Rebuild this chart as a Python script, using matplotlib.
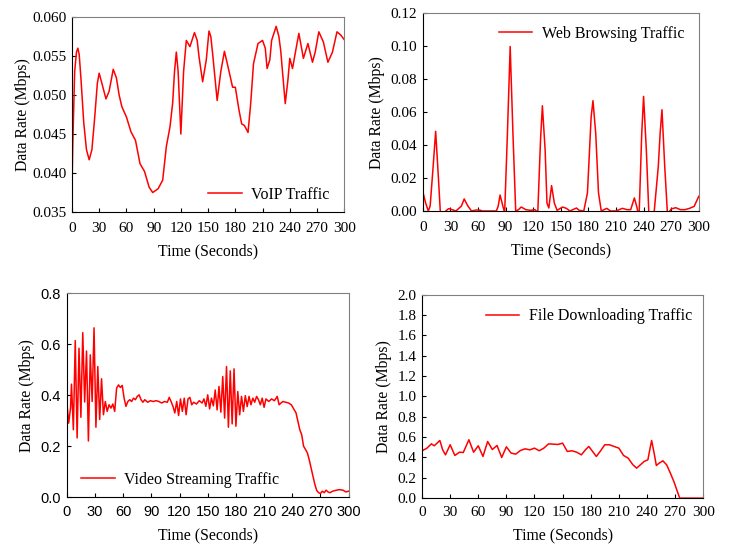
"""Four panels of traffic data rate over time."""

import matplotlib.pyplot as plt

plt.rcParams["font.family"] = ["Liberation Serif", "DejaVu Serif"]

# VoIP traffic
voip_t = [0, 1, 3, 5, 6.5, 8, 10, 13, 16, 19, 22, 25, 28, 30, 33, 37.5, 41, 45.5, 49, 52, 55,
          60, 65, 70, 75, 80, 85, 89, 95, 100, 104, 108, 111, 113, 115, 117, 120, 123, 126,
          130, 135, 138, 140, 144, 148, 151, 153, 155, 160, 164, 168, 172, 177, 180, 184,
          187, 190, 194, 197, 200, 205, 210, 213, 215, 218, 220, 225, 228, 230, 235, 238,
          240, 243, 247, 250, 253, 255, 260, 265, 268, 272, 277, 282, 287, 292, 296, 300]
voip_y = [0.0374, 0.0440, 0.0530, 0.0555, 0.0560, 0.0552, 0.0520, 0.0465, 0.0430, 0.0417,
          0.0430, 0.0470, 0.0515, 0.0528, 0.0515, 0.0495, 0.0505, 0.0533, 0.0522, 0.0500,
          0.0485, 0.0472, 0.0453, 0.0442, 0.0412, 0.0402, 0.0382, 0.0375, 0.0380, 0.0391,
          0.0434, 0.0459, 0.0490, 0.0530, 0.0555, 0.0530, 0.0450, 0.0530, 0.0570, 0.0562,
          0.0580, 0.0570, 0.0549, 0.0517, 0.0545, 0.0582, 0.0575, 0.0553, 0.0493, 0.0530,
          0.0556, 0.0536, 0.0510, 0.0510, 0.0481, 0.0463, 0.0461, 0.0452, 0.0490, 0.0540,
          0.0566, 0.0570, 0.0560, 0.0534, 0.0545, 0.0570, 0.0588, 0.0575, 0.0557, 0.0489,
          0.0520, 0.0547, 0.0534, 0.0560, 0.0579, 0.0560, 0.0547, 0.0566, 0.0542, 0.0555,
          0.0581, 0.0568, 0.0542, 0.0555, 0.0581, 0.0577, 0.0571]

# Web browsing traffic
web_t = [0, 3, 6, 8, 11, 14, 17, 19, 21, 25, 28, 32, 36, 42, 45, 49, 53, 58, 62, 65, 80, 82,
         84, 87, 89, 92, 95, 98, 101, 104, 107, 112, 117, 122, 125, 128, 130, 133, 135, 137,
         140, 143, 146, 152, 156, 160, 167, 170, 175, 179, 183, 185, 188, 191, 194, 200, 204,
         210, 217, 222, 226, 230, 233, 235, 238, 240, 243, 246, 250, 256, 258, 260, 263, 266,
         270, 275, 280, 285, 290, 295, 300]
web_y = [0.0119, 0.0050, 0.0000, 0.0030, 0.0250, 0.0483, 0.0200, 0.0000, -0.0040, 0.0000,
         0.0014, 0.0008, 0.0000, 0.0030, 0.0073, 0.0030, 0.0000, 0.0006, 0.0005, 0.0000,
         0.0000, 0.0030, 0.0097, 0.0030, -0.0010, 0.0470, 0.0998, 0.0470, 0.0000, 0.0008,
         0.0024, 0.0008, 0.0004, 0.0008, -0.0010, 0.0432, 0.0638, 0.0370, 0.0048, 0.0018,
         0.0154, 0.0048, 0.0004, 0.0024, 0.0016, 0.0000, 0.0018, 0.0004, 0.0000, 0.0110,
         0.0570, 0.0669, 0.0470, 0.0110, 0.0000, 0.0016, 0.0000, 0.0000, 0.0016, 0.0008,
         0.0008, 0.0079, 0.0018, -0.0050, 0.0470, 0.0695, 0.0370, -0.0050, -0.0100, 0.0270,
         0.0470, 0.0614, 0.0270, -0.0020, 0.0012, 0.0020, 0.0008, 0.0008, 0.0016, 0.0028,
         0.0089]

# Video streaming traffic
video_t = [0, 2, 4, 5, 7, 9, 11, 13, 15, 17, 19, 21, 23, 25, 27, 29, 31, 33, 35, 37, 39, 41,
           43, 45, 47, 49, 51, 53, 55, 57, 59, 61, 63, 65, 67, 69, 71, 73, 75, 77, 79, 81, 83,
           86, 89, 92, 95, 98, 101, 104, 107, 109, 111, 113, 115, 117, 119, 121, 123, 125,
           127, 129, 131, 133, 135, 138, 141, 144, 146, 148, 150, 152, 154, 156, 158, 160,
           162, 164, 166, 168, 170, 172, 174, 176, 178, 180, 182, 184, 186, 188, 190, 192,
           194, 196, 198, 200, 202, 204, 206, 208, 210, 212, 215, 218, 221, 224, 226, 228,
           230, 233, 236, 239, 242, 244, 246, 248, 250, 252, 254, 256, 258, 260, 262, 264,
           266, 268, 270, 272, 274, 276, 278, 280, 283, 286, 290, 294, 297, 300]
video_y = [0.375, 0.290, 0.350, 0.443, 0.264, 0.614, 0.232, 0.584, 0.313, 0.645, 0.373,
           0.573, 0.220, 0.558, 0.375, 0.664, 0.274, 0.512, 0.304, 0.464, 0.323, 0.375,
           0.336, 0.362, 0.349, 0.365, 0.336, 0.427, 0.440, 0.430, 0.438, 0.388, 0.356,
           0.375, 0.382, 0.375, 0.388, 0.382, 0.395, 0.401, 0.382, 0.372, 0.382, 0.372,
           0.378, 0.375, 0.378, 0.375, 0.369, 0.375, 0.372, 0.391, 0.375, 0.356, 0.330,
           0.375, 0.320, 0.385, 0.336, 0.388, 0.323, 0.385, 0.391, 0.362, 0.372, 0.365,
           0.378, 0.369, 0.385, 0.356, 0.401, 0.346, 0.388, 0.358, 0.420, 0.342, 0.434,
           0.333, 0.473, 0.310, 0.512, 0.274, 0.495, 0.287, 0.503, 0.278, 0.414, 0.323,
           0.395, 0.336, 0.398, 0.355, 0.395, 0.362, 0.388, 0.372, 0.395, 0.382, 0.362,
           0.388, 0.352, 0.385, 0.375, 0.385, 0.378, 0.395, 0.362, 0.369, 0.375, 0.372,
           0.369, 0.362, 0.343, 0.330, 0.297, 0.264, 0.245, 0.200, 0.187, 0.174, 0.147,
           0.114, 0.082, 0.050, 0.026, 0.017, 0.014, 0.023, 0.017, 0.027, 0.020, 0.017,
           0.023, 0.026, 0.029, 0.027, 0.020, 0.023]

# File downloading traffic
file_t = [0, 5, 10, 13, 16, 19, 22, 25, 30, 35, 40, 44, 50, 55, 60, 65, 70, 75, 80, 85, 90,
          95, 100, 105, 110, 115, 120, 125, 130, 135, 140, 145, 150, 155, 160, 165, 170, 175,
          178, 182, 186, 190, 195, 200, 205, 210, 215, 220, 225, 229, 233, 237, 241, 243,
          245, 248, 250, 253, 257, 261, 265, 269, 273, 275, 276, 300]
file_y = [0.466, 0.490, 0.534, 0.515, 0.541, 0.567, 0.475, 0.426, 0.525, 0.420, 0.452,
          0.449, 0.574, 0.452, 0.515, 0.410, 0.557, 0.478, 0.518, 0.400, 0.505, 0.443,
          0.433, 0.469, 0.485, 0.475, 0.492, 0.466, 0.492, 0.534, 0.531, 0.528, 0.541,
          0.459, 0.466, 0.452, 0.426, 0.482, 0.508, 0.459, 0.410, 0.459, 0.525, 0.525,
          0.508, 0.492, 0.420, 0.393, 0.328, 0.295, 0.328, 0.361, 0.377, 0.475, 0.567,
          0.426, 0.321, 0.344, 0.367, 0.328, 0.246, 0.157, 0.050, 0.000, 0.000, 0.000]

time_ticks = list(range(0, 301, 30))


def style_axes(ax, sans_ticks=False, xpad=7, ylabelpad=4):
    for side in ("left", "bottom"):
        ax.spines[side].set_color("black")
    for side in ("top", "right"):
        ax.spines[side].set_color("#808080")
    ax.tick_params(direction="in", length=3, labelsize=11, pad=4)
    ax.tick_params(axis="x", pad=xpad)
    ax.set_xlim(0, 300)
    ax.set_xticks(time_ticks)
    ax.set_xlabel("Time (Seconds)", fontsize=11.3, labelpad=6)
    ax.set_ylabel("Data Rate (Mbps)", fontsize=11.3, labelpad=ylabelpad)
    if sans_ticks:
        for lab in ax.get_xticklabels() + ax.get_yticklabels():
            lab.set_family(["Liberation Sans", "DejaVu Sans"])
            lab.set_fontsize(10.5)


fig = plt.figure(figsize=(7.34, 5.48), dpi=100)

ax1 = fig.add_axes([0.098, 0.613, 0.371, 0.356])
ax1.plot(voip_t, voip_y, color="red", lw=1.1, label="VoIP Traffic")
ax1.set_ylim(0.035, 0.060)
ax1.set_yticks([0.035, 0.040, 0.045, 0.050, 0.055, 0.060])
ax1.set_yticklabels(["0.035", "0.040", "0.045", "0.050", "0.055", "0.060"])
style_axes(ax1, ylabelpad=1)
ax1.legend(loc="lower right", frameon=False, fontsize=11.5, handlelength=2.1,
           handletextpad=0.6, bbox_to_anchor=(1.0, -0.025))

ax2 = fig.add_axes([0.576, 0.615, 0.376, 0.361])
ax2.plot(web_t, web_y, color="red", lw=1.1, label="Web Browsing Traffic")
ax2.set_ylim(0, 0.12)
ax2.set_yticks([0, 0.02, 0.04, 0.06, 0.08, 0.10, 0.12])
ax2.set_yticklabels(["0.00", "0.02", "0.04", "0.06", "0.08", "0.10", "0.12"])
style_axes(ax2)
ax2.legend(loc="upper right", frameon=False, fontsize=11.5, handlelength=2.1,
           handletextpad=0.6, bbox_to_anchor=(1.0, 1.01))

ax3 = fig.add_axes([0.091, 0.093, 0.384, 0.372])
ax3.plot(video_t, video_y, color="red", lw=1.1, label="Video Streaming Traffic")
ax3.set_ylim(0, 0.8)
ax3.set_yticks([0, 0.2, 0.4, 0.6, 0.8])
ax3.set_yticklabels(["0.0", "0.2", "0.4", "0.6", "0.8"])
style_axes(ax3, sans_ticks=True, xpad=6)
ax3.legend(loc="lower left", frameon=False, fontsize=11.5, handlelength=2.1,
           handletextpad=0.6, bbox_to_anchor=(0.0, -0.025))

ax4 = fig.add_axes([0.575, 0.091, 0.383, 0.371])
ax4.plot(file_t, file_y, color="red", lw=1.1, label="File Downloading Traffic")
ax4.set_ylim(0, 2.0)
ax4.set_yticks([0, 0.2, 0.4, 0.6, 0.8, 1.0, 1.2, 1.4, 1.6, 1.8, 2.0])
ax4.set_yticklabels(["0.0", "0.2", "0.4", "0.6", "0.8", "1.0", "1.2", "1.4", "1.6", "1.8", "2.0"])
style_axes(ax4, xpad=6)
ax4.legend(loc="upper right", frameon=False, fontsize=11.5, handlelength=2.1,
           handletextpad=0.6, bbox_to_anchor=(1.012, 1.005))

fig.savefig("out.png", dpi=100)
plt.close(fig)
